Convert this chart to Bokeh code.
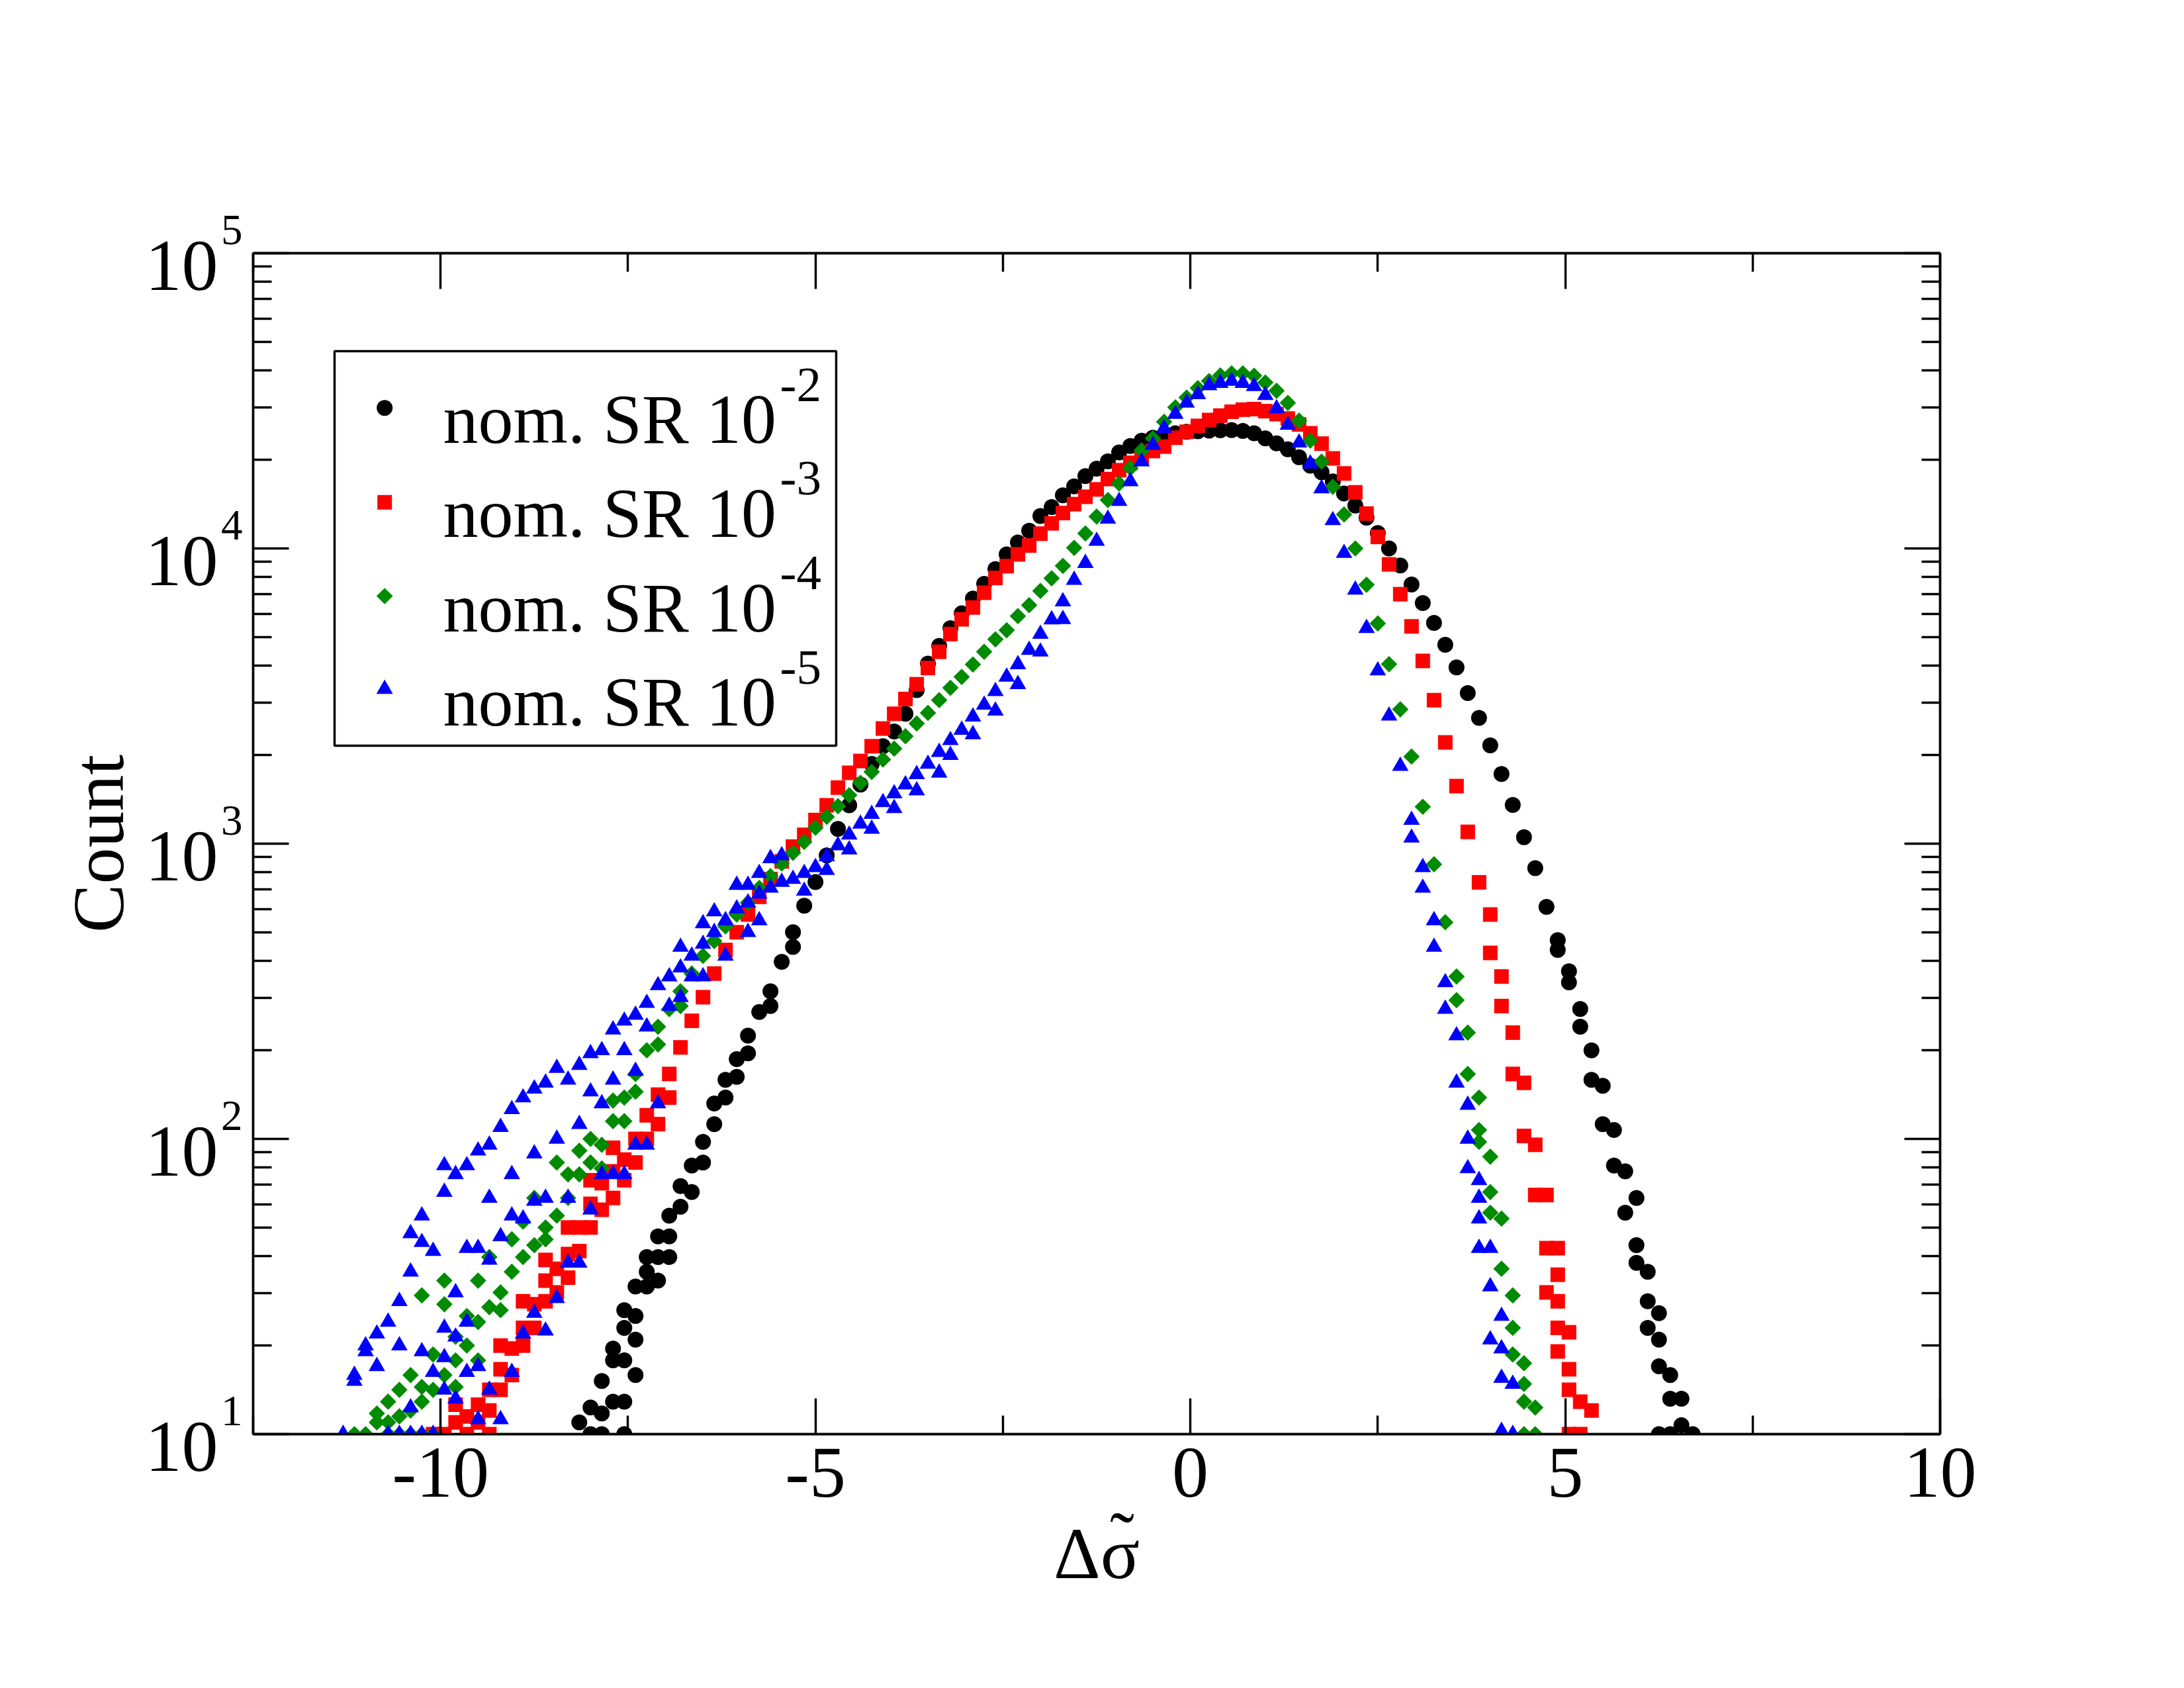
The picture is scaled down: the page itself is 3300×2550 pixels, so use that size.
import numpy as np
from bokeh.plotting import figure
from bokeh.models import (Range1d, LinearScale, LinearAxis, LogAxis, FixedTicker,
                          CustomJSTickFormatter, Label, BoxAnnotation)
from bokeh.embed import file_html
from bokeh.resources import INLINE

# Histogram of the normalised stress drop: bin k is centred on BIN0 + BIN_W * k
BIN0 = 0.55
BIN_W = 0.15

# nominal SR 1e-2: log10(count) of consecutive bins starting at sr2_first,
# plus the points of the other runs where they separate in the tails
sr2_first = -58
sr2_lg = [1.04, 1.09, 1.18, 1.29, 1.42, 1.50, 1.60, 1.67, 1.74, 1.84,
          1.91, 1.99, 2.12, 2.20, 2.27, 2.35, 2.43, 2.50, 2.60, 2.70,
          2.79, 2.87, 2.96, 3.05, 3.13, 3.20, 3.27, 3.33, 3.38, 3.44,
          3.52, 3.61, 3.67, 3.73, 3.78, 3.83, 3.88, 3.93, 3.98, 4.02,
          4.06, 4.11, 4.14, 4.18, 4.21, 4.245, 4.27, 4.295, 4.325, 4.347,
          4.365, 4.375, 4.383, 4.39, 4.395, 4.397, 4.399, 4.40, 4.401, 4.398,
          4.39, 4.373, 4.356, 4.336, 4.309, 4.28, 4.258, 4.227, 4.186, 4.145,
          4.104, 4.052, 4.00, 3.942, 3.878, 3.815, 3.748, 3.674, 3.597, 3.51,
          3.426, 3.333, 3.236, 3.131, 3.022, 2.917, 2.786, 2.673, 2.568, 2.44,
          2.30, 2.18, 2.03, 1.89, 1.80, 1.55, 1.41, 1.20, 1.12, 1.00]
sr2_more_bin = [29, 30, 31, 32, 33, 34, 35, 36, 36, 37, 37, 38, 38, 38, 39, 39, 40,
                -39, -41, -43, -44, -45, -46, -47, -48, -49, -50, -50, -51, -51, -52,
                -52, -53, -53, -53, -54, -54, -54, -54, -55, -55, -56, -56, -57]
sr2_more_lg = [2.64, 2.53, 2.38, 2.20, 2.05, 1.91, 1.75, 1.64, 1.58, 1.45, 1.36, 1.32, 1.23, 1.00, 1.12, 1.00, 1.03,
               2.65, 2.45, 2.29, 2.21, 2.14, 2.05, 1.92, 1.82, 1.77, 1.67, 1.60, 1.60, 1.52, 1.55,
               1.50, 1.40, 1.32, 1.20, 1.36, 1.25, 1.11, 1.00, 1.25, 1.11, 1.07, 1.00, 1.00]

# nominal SR 1e-3
sr3_first = -70
sr3_lg = [1.00, 1.04, 1.06, 1.10, 1.15, 1.22, 1.29, 1.36, 1.44, 1.52,
          1.56, 1.61, 1.70, 1.78, 1.85, 1.89, 1.93, 2.00, 2.08, 2.15,
          2.22, 2.31, 2.40, 2.48, 2.56, 2.64, 2.70, 2.76, 2.82, 2.88,
          2.94, 2.99, 3.03, 3.08, 3.13, 3.19, 3.24, 3.28, 3.33, 3.39,
          3.44, 3.49, 3.54, 3.595, 3.65, 3.71, 3.76, 3.80, 3.85, 3.90,
          3.94, 3.98, 4.01, 4.05, 4.085, 4.12, 4.15, 4.175, 4.20, 4.235,
          4.265, 4.29, 4.31, 4.33, 4.345, 4.375, 4.395, 4.415, 4.435, 4.45,
          4.463, 4.47, 4.472, 4.465, 4.455, 4.44, 4.42, 4.39, 4.355, 4.305,
          4.254, 4.19, 4.118, 4.039, 3.946, 3.845, 3.736, 3.619, 3.486, 3.343,
          3.195, 3.04, 2.869, 2.76, 2.55, 2.36, 2.19, 1.98, 1.81, 1.63,
          1.345, 1.11, 1.08]
sr3_more_bin = [23, 24, 25, 26, 27, 28, 28, 29, 29, 29, 29, 30, 30, 30, 31,
                -50, -51, -52, -53, -54, -55, -56, -57, -58, -59, -60, -61, -62, -63,
                -64, -65, -66, -67, -68, -65, -63, -61, -59, -57, -55, -69, -71, -66]
sr3_more_lg = [2.63, 2.45, 2.22, 2.01, 1.81, 1.63, 1.48, 1.54, 1.45, 1.36, 1.28, 1.22, 1.15, 1.00, 1.00,
               2.14, 2.05, 2.00, 1.92, 1.86, 1.80, 1.76, 1.70, 1.62, 1.53, 1.48, 1.45, 1.36, 1.30,
               1.20, 1.15, 1.08, 1.04, 1.00, 1.30, 1.45, 1.59, 1.70, 1.86, 1.97, 1.10, 1.00, 1.00]

# nominal SR 1e-4
sr4_first = -78
sr4_lg = [1.00, 1.00, 1.04, 1.04, 1.06, 1.08, 1.11, 1.15, 1.20, 1.25,
          1.30, 1.38, 1.43, 1.48, 1.55, 1.60, 1.64, 1.70, 1.74, 1.80,
          1.88, 1.92, 1.98, 2.06, 2.14, 2.22, 2.30, 2.38, 2.44, 2.50,
          2.56, 2.62, 2.67, 2.72, 2.76, 2.80, 2.85, 2.89, 2.933, 2.969,
          3.006, 3.054, 3.091, 3.127, 3.164, 3.206, 3.243, 3.285, 3.322, 3.364,
          3.407, 3.443, 3.486, 3.528, 3.565, 3.607, 3.65, 3.692, 3.723, 3.771,
          3.808, 3.856, 3.899, 3.941, 4.002, 4.051, 4.108, 4.164, 4.22, 4.272,
          4.332, 4.373, 4.429, 4.478, 4.511, 4.543, 4.567, 4.586, 4.593, 4.593,
          4.585, 4.562, 4.534, 4.493, 4.433, 4.365, 4.294, 4.209, 4.115, 4.00,
          3.877, 3.746, 3.608, 3.455, 3.295, 3.125, 2.93, 2.734, 2.55, 2.36,
          2.14, 1.94, 1.73, 1.47, 1.24, 1.09]
sr4_more_bin = [20, 21, 22, 22, 23, 23, 24, 25, 25, 26, 26, 26, 27,
                -49, -51, -53, -54, -55, -56, -57, -58, -59, -60, -61, -62, -63, -64,
                -65, -66, -67, -67, -68, -69, -69, -70, -70, -71, -71, -72, -72, -72,
                -73, -73, -74, -74, -75, -75, -76]
sr4_more_lg = [2.47, 2.22, 2.03, 1.99, 1.82, 1.75, 1.56, 1.36, 1.27, 1.17, 1.11, 1.00, 1.00,
               2.45, 2.32, 2.16, 2.06, 2.13, 1.90, 2.00, 1.96, 1.88, 1.92, 1.66, 1.80, 1.72, 1.66,
               1.42, 1.60, 1.52, 1.25, 1.40, 1.33, 1.16, 1.44, 1.52, 1.27, 1.00, 1.47, 1.16, 1.00,
               1.20, 1.00, 1.15, 1.00, 1.11, 1.00, 1.07]

# nominal SR 1e-5
sr5_first = -79
sr5_lg = [1.00, 1.20, 1.30, 1.34, 1.38, 1.45, 1.55, 1.65, 1.62, 1.82,
          1.88, 1.91, 1.96, 1.98, 2.04, 2.10, 2.14, 2.17, 2.19, 2.24,
          2.20, 2.25, 2.29, 2.30, 2.37, 2.40, 2.42, 2.46, 2.52, 2.55,
          2.58, 2.62, 2.66, 2.70, 2.74, 2.78, 2.80, 2.83, 2.85, 2.87,
          2.88, 2.90, 2.92, 2.957, 2.994, 3.03, 3.067, 3.10, 3.14, 3.17,
          3.20, 3.235, 3.27, 3.31, 3.35, 3.385, 3.43, 3.47, 3.516, 3.565,
          3.607, 3.656, 3.71, 3.759, 3.82, 3.893, 3.95, 4.025, 4.10, 4.16,
          4.227, 4.294, 4.35, 4.407, 4.455, 4.493, 4.522, 4.552, 4.56, 4.567,
          4.56, 4.549, 4.519, 4.474, 4.418, 4.358, 4.287, 4.203, 4.095, 3.984,
          3.86, 3.73, 3.586, 3.433, 3.263, 3.08, 2.92, 2.74, 2.53, 2.35,
          2.115, 1.86, 1.63, 1.40, 1.17]
sr5_more_bin = [16, 17, 18, 19, 20, 21, 21, 22, 22, 22, 23, 23, 24, 24, 24, 25,
                -15, -17, -19, -21, -23, -25, -26, -28, -30, -32, -34, -36, -38,
                -40, -41, -42, -43, -44, -46, -47, -42, -43, -45, -47, -48, -49, -49,
                -50, -51, -52, -52, -53, -53, -54, -54, -55, -55, -56, -56, -57, -57,
                -58, -58, -59, -59, -60, -60, -61, -61, -62, -62, -62, -63, -63, -64,
                -64, -64, -65, -65, -66, -66, -66, -67, -67, -67, -68, -68, -68, -69,
                -69, -69, -70, -70, -70, -70, -71, -71, -72, -72, -72, -73, -73, -73,
                -74, -74, -75, -76, -77, -78]
sr5_more_lg = [3.02, 2.85, 2.65, 2.44, 2.19, 2.00, 1.90, 1.80, 1.73, 1.63, 1.50, 1.32, 1.29, 1.19, 1.01, 1.00,
               3.76, 3.65, 3.54, 3.45, 3.37, 3.30, 3.24, 3.18, 3.12, 3.05, 2.98, 2.91, 2.84,
               2.96, 2.95, 2.90, 2.86, 2.86, 2.77, 2.73, 2.74, 2.70, 2.62, 2.55, 2.55, 2.65, 2.48,
               2.45, 2.12, 2.38, 1.98, 2.23, 1.98, 2.30, 1.88, 2.20, 1.88, 2.12, 1.88, 2.16, 1.76,
               2.05, 1.58, 1.80, 1.58, 2.00, 1.46, 1.80, 1.35, 1.95, 1.79, 1.41, 1.73, 1.34, 1.88,
               1.74, 1.21, 1.67, 1.05, 1.80, 1.59, 1.15, 1.63, 1.23, 1.05, 1.63, 1.38, 1.21, 1.48,
               1.33, 1.12, 1.91, 1.36, 1.26, 1.15, 1.21, 1.00, 1.74, 1.28, 1.00, 1.68, 1.09, 1.00,
               1.30, 1.00, 1.00, 1.23, 1.28, 1.18]

series_names = ["nom. SR 10", "nom. SR 10", "nom. SR 10", "nom. SR 10"]
series_exponents = ["-2", "-3", "-4", "-5"]
x_ticks = [-10, -5, 0, 5, 10]
x_minor_ticks = [-12.5, -7.5, -2.5, 2.5, 7.5]
y_decades = [1, 2, 3, 4, 5]


def points(first, lg, more_bin, more_lg):
    bins = np.concatenate([first + np.arange(len(lg)), np.asarray(more_bin, dtype=float)])
    lgc = np.concatenate([np.asarray(lg, dtype=float), np.asarray(more_lg, dtype=float)])
    return BIN0 + BIN_W * bins, 10.0 ** lgc


# page and plot-frame geometry (pixels)
W, H = 3300, 2550
FL, FT, FW, FH = 382, 382, 2549, 1784
FONT = "Liberation Serif"
LW = 3.4
MID = 0.38    # text "middle" sits this many em above the baseline


def fx(cx):
    """canvas x -> frame pixel coordinate"""
    return cx - FL


def fy(cy):
    """canvas y (from top) -> frame pixel coordinate (from bottom)"""
    return FT + FH - cy


p = figure(width=W, height=H, x_range=Range1d(-12.5, 10), y_range=Range1d(10, 1e5),
           y_axis_type="log", output_backend="svg", toolbar_location=None,
           min_border_left=FL, min_border_top=FT,
           min_border_right=W - FL - FW, min_border_bottom=H - FT - FH,
           outline_line_color="black", outline_line_width=LW,
           background_fill_color="white", border_fill_color="white")
p.grid.visible = False
p.extra_x_ranges = {"px": Range1d(0, FW)}
p.extra_y_ranges = {"px": Range1d(0, FH)}
p.extra_x_scales = {"px": LinearScale()}
p.extra_y_scales = {"px": LinearScale()}

xticker = FixedTicker(ticks=x_ticks, minor_ticks=x_minor_ticks)
ymajor = [10.0 ** d for d in y_decades]
yticker = FixedTicker(ticks=ymajor,
                      minor_ticks=[m * 10.0 ** d for d in y_decades[:-1] for m in range(2, 10)])
blank = CustomJSTickFormatter(code="return ''")


def style(ax):
    ax.axis_line_width = LW
    ax.axis_line_color = "black"
    ax.major_tick_line_width = LW
    ax.minor_tick_line_width = LW
    ax.major_tick_line_color = "black"
    ax.minor_tick_line_color = "black"
    ax.major_tick_in = 54
    ax.major_tick_out = 0
    ax.minor_tick_in = 28
    ax.minor_tick_out = 0
    ax.major_label_text_color = "black"
    ax.axis_label_text_color = "black"


xb = p.xaxis[0]
style(xb)
xb.ticker = xticker
xb.major_label_overrides = {t: str(t) for t in x_ticks}
xb.major_label_text_font = FONT
xb.major_label_text_font_size = "110px"
xb.major_label_standoff = 21
# tilde set on its own line right over the sigma
xb.axis_label = "\u00a0\u00a0\u2009\u02dc\n\u0394\u03c3"
xb.axis_label_text_font = FONT
xb.axis_label_text_font_size = "110px"
xb.axis_label_text_font_style = "normal"
xb.axis_label_text_line_height = 0.2
xb.axis_label_standoff = -2

# left axis: frame line, ticks and the decade exponents (raised)
yl = p.yaxis[0]
style(yl)
yl.ticker = yticker
yl.major_label_overrides = {v: f"{d}\n\u00a0" for v, d in zip(ymajor, y_decades)}
yl.major_label_text_font = FONT
yl.major_label_text_font_size = "65px"
yl.major_label_text_line_height = 0.975
yl.major_label_standoff = 16

# outer left axis: the "10" mantissas (lowered) and the axis title
ym = LogAxis(ticker=FixedTicker(ticks=ymajor, minor_ticks=[]),
             major_label_overrides={v: "\u00a0\n10" for v in ymajor},
             major_label_text_font=FONT, major_label_text_font_size="110px",
             major_label_text_color="black",
             major_label_text_line_height=0.31, major_label_standoff=-5,
             axis_line_color=None, major_tick_line_color=None, minor_tick_line_color=None,
             axis_label="Count", axis_label_text_font=FONT, axis_label_text_font_size="110px",
             axis_label_text_color="black",
             axis_label_text_font_style="normal", axis_label_standoff=7)
p.add_layout(ym, "left")

xt = LinearAxis(ticker=xticker, formatter=blank, major_label_standoff=0)
style(xt)
p.add_layout(xt, "above")
yr = LogAxis(ticker=yticker, formatter=blank, major_label_standoff=0)
style(yr)
p.add_layout(yr, "right")

# data
styles = [dict(marker="circle", size=24, fill_color="#000000"),
          dict(marker="square", size=22, fill_color="#ff0000"),
          dict(marker="square", size=17.5, angle=np.pi / 4, fill_color="#008b00"),
          dict(marker="triangle", size=25, fill_color="#0000ff")]
data = [points(sr2_first, sr2_lg, sr2_more_bin, sr2_more_lg),
        points(sr3_first, sr3_lg, sr3_more_bin, sr3_more_lg),
        points(sr4_first, sr4_lg, sr4_more_bin, sr4_more_lg),
        points(sr5_first, sr5_lg, sr5_more_bin, sr5_more_lg)]
for (x, y), st in zip(data, styles):
    p.scatter(x, y, line_color=None, **st)

# legend
p.add_layout(BoxAnnotation(left=fx(505), right=fx(1263), top=fy(530), bottom=fy(1126),
                           x_range_name="px", y_range_name="px",
                           fill_alpha=0, line_color="black", line_alpha=1.0,
                           line_dash="solid", line_width=3.5))
key_cy = [615.7, 758.3, 900.0, 1040.5]
text_cy = [673.6, 814.9, 957.9, 1100.4]
for st, kcy, tcy, name, ex in zip(styles, key_cy, text_cy, series_names, series_exponents):
    p.scatter([fx(580.7)], [fy(kcy)], x_range_name="px", y_range_name="px", line_color=None, **st)
    p.add_layout(Label(x=fx(669), y=fy(tcy) + MID * 106, x_range_name="px", y_range_name="px",
                       text=name, text_align="left", text_baseline="alphabetic",
                       text_font=FONT, text_font_size="106px", text_color="black"))
    p.add_layout(Label(x=fx(1178), y=fy(tcy) + 64 + MID * 75, x_range_name="px", y_range_name="px",
                       text=ex, text_align="left", text_baseline="alphabetic",
                       text_font=FONT, text_font_size="75px", text_color="black"))

open("out.html", "w").write(file_html(p, INLINE))
